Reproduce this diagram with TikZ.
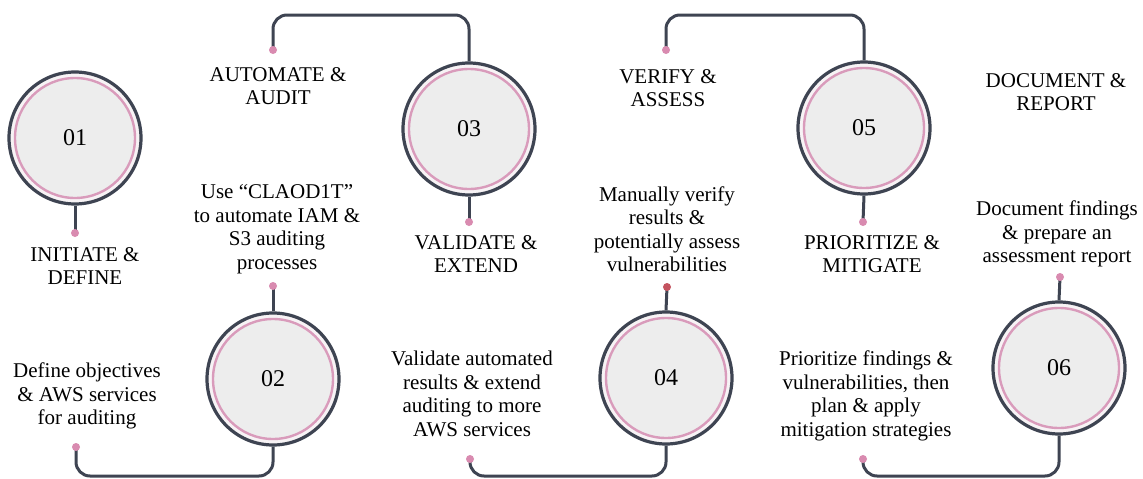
\documentclass[tikz,border=0pt]{standalone}
\usepackage{fontspec}
\setmainfont{Liberation Serif}
\definecolor{dark}{HTML}{3E4452}
\definecolor{pinkring}{HTML}{D99BBB}
\definecolor{pinkdot}{HTML}{D98BB0}
\definecolor{reddot}{HTML}{C4535F}
\definecolor{innergray}{HTML}{EDEDED}
\definecolor{gapcol}{HTML}{F7F3F5}
\pgfdeclarelayer{bg}
\pgfsetlayers{bg,main}
\begin{document}
\begin{tikzpicture}[x=1pt,y=-1pt,
  stage/.style={circle, draw=dark, line width=3.2pt, fill=gapcol, minimum size=132pt, inner sep=0pt,
    font=\fontsize{24}{26}\selectfont,
    path picture={\fill[innergray] (path picture bounding box.center) circle (60pt);
      \draw[pinkring, line width=2.4pt] (path picture bounding box.center) circle (60pt);}},
  conn/.style={draw=dark, line width=3pt, rounded corners=14pt},
  dot/.style={circle, fill=pinkdot, inner sep=0pt, minimum size=8pt},
  lbl/.style={align=center, font=\fontsize{21}{23.5}\selectfont, inner sep=0pt}]
\useasboundingbox (0,0) rectangle (1143,479);

% circles
\node[stage] (c1) at (75,138) {01};
\node[stage] (c2) at (273,379) {02};
\node[stage] (c3) at (469,129) {03};
\node[stage] (c4) at (666,378) {04};
\node[stage] (c5) at (864,128) {05};
\node[stage] (c6) at (1059,368) {06};

% dots
\node[dot] (d1) at (75,233) {};
\node[dot] (d2) at (273,286) {};
\node[dot] (d3) at (469,222) {};
\node[dot, fill=reddot] (d4) at (667,287) {};
\node[dot] (d5) at (863,222) {};
\node[dot] (d6) at (1060,277) {};
\node[dot] (a1) at (76,447) {};
\node[dot] (a2) at (470,459) {};
\node[dot] (a3) at (863,459) {};
\node[dot] (t1) at (273,50) {};
\node[dot] (t2) at (666,50) {};

\coordinate (bot) at (0,476);
\coordinate (top) at (0,15);

\begin{pgfonlayer}{bg}
  \fill[white] (0,0) rectangle (1143,479);
  \draw[conn] (c1.south) -- (d1.center);
  \draw[conn] (c2.north) -- (d2.center);
  \draw[conn] (c3.south) -- (d3.center);
  \draw[conn] (c4.north) -- (d4.center);
  \draw[conn] (c5.south) -- (d5.center);
  \draw[conn] (c6.north) -- (d6.center);
  \draw[conn] (a1.center) -- (a1.center |- bot) -- (c2.south |- bot) -- (c2.south);
  \draw[conn] (a2.center) -- (a2.center |- bot) -- (c4.south |- bot) -- (c4.south);
  \draw[conn] (a3.center) -- (a3.center |- bot) -- (c6.south |- bot) -- (c6.south);
  \draw[conn] (t1.center) -- (t1.center |- top) -- (c3.north |- top) -- (c3.north);
  \draw[conn] (t2.center) -- (t2.center |- top) -- (c5.north |- top) -- (c5.north);
\end{pgfonlayer}

% labels
\node[lbl] (h1) at (85,266) {INITIATE \&\\DEFINE};
\node[lbl] (b1) at (87,396) {Define objectives\\\& AWS services\\for auditing};
\node[lbl] (h2) at (278,86) {AUTOMATE \&\\AUDIT};
\node[lbl] (b2) at (277,229) {Use “CLAOD1T”\\to automate IAM \&\\S3 auditing\\processes};
\node[lbl] (h3) at (476,254) {VALIDATE \&\\EXTEND};
\node[lbl] (b3) at (472,394) {Validate automated\\results \& extend\\auditing to more\\AWS services};
\node[lbl] (h4) at (668,88) {VERIFY \&\\ASSESS};
\node[lbl] (b4) at (667,229) {Manually verify\\results \&\\potentially assess\\vulnerabilities};
\node[lbl] (h5) at (872,254) {PRIORITIZE \&\\MITIGATE};
\node[lbl] (b5) at (866,396) {Prioritize findings \&\\vulnerabilities, then\\plan \& apply\\mitigation strategies};
\node[lbl] (h6) at (1056,92) {DOCUMENT \&\\REPORT};
\node[lbl] (b6) at (1057,234) {Document findings\\\& prepare an\\assessment report};
\end{tikzpicture}
\end{document}
